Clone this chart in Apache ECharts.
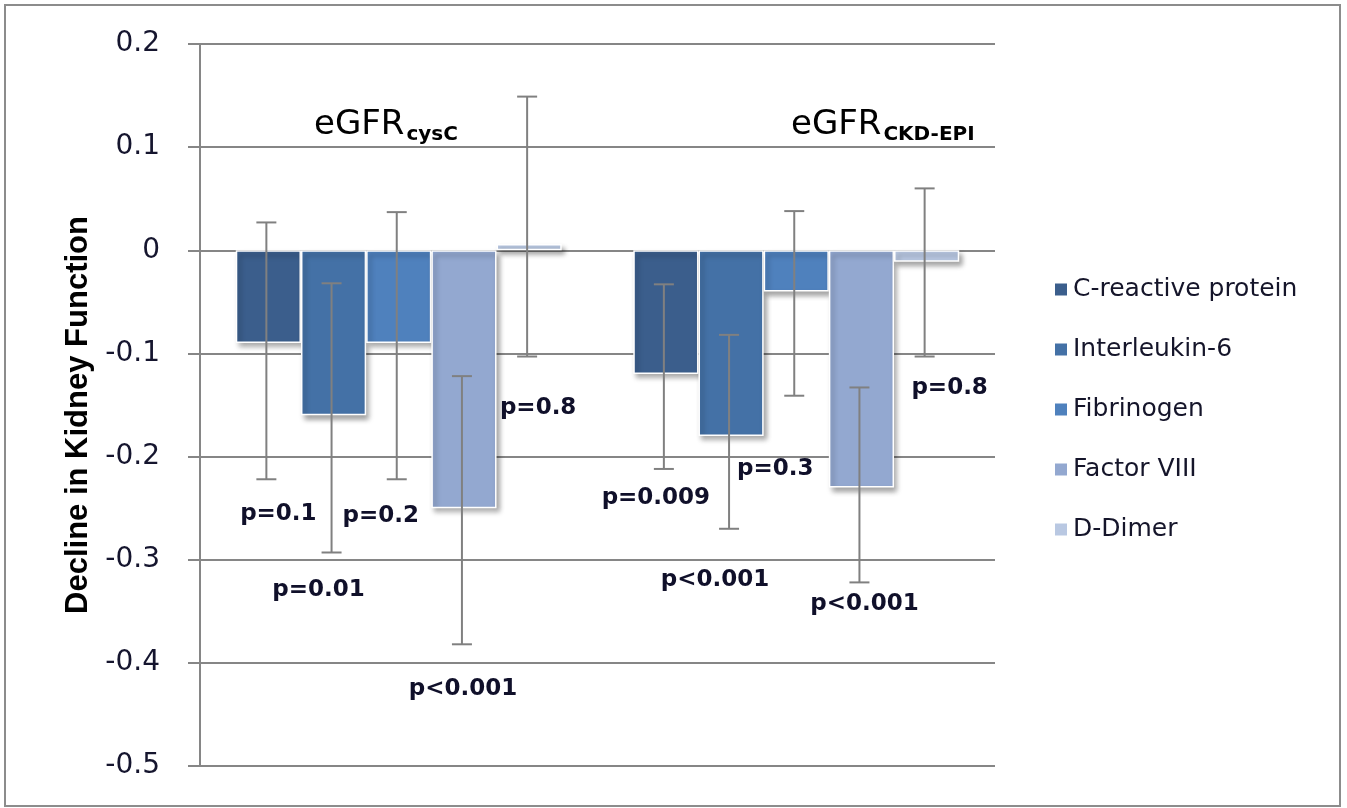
<!DOCTYPE html>
<html>
<head>
<meta charset="utf-8">
<script src="https://cdn.jsdelivr.net/npm/echarts@6/dist/echarts.min.js"></script>
<style>
html,body{margin:0;padding:0;background:#fff;}
#chart{width:1347px;height:808px;}
</style>
</head>
<body>
<div id="chart"></div>
<script>
// ---- data ----
var categories = ['eGFR_cysC', 'eGFR_CKD-EPI'];
var seriesNames = ['C-reactive protein', 'Interleukin-6', 'Fibrinogen', 'Factor VIII', 'D-Dimer'];
var crp   = [-0.09, -0.12];
var il6   = [-0.16, -0.18];
var fib   = [-0.09, -0.04];
var f8    = [-0.25, -0.23];
var ddim  = [0.006, -0.011];
var crpLow  = [-0.222, -0.212], crpHigh  = [0.027, -0.033];
var il6Low  = [-0.293, -0.27],  il6High  = [-0.032, -0.082];
var fibLow  = [-0.222, -0.141], fibHigh  = [0.037, 0.038];
var f8Low   = [-0.382, -0.322], f8High   = [-0.122, -0.133];
var ddLow   = [-0.103, -0.103], ddHigh   = [0.149, 0.06];
var pCysC = ['p=0.1', 'p=0.01', 'p=0.2', 'p<0.001', 'p=0.8'];
var pCkd  = ['p=0.009', 'p<0.001', 'p=0.3', 'p<0.001', 'p=0.8'];
var yTicks = [-0.5, -0.4, -0.3, -0.2, -0.1, 0, 0.1, 0.2];

// ---- build ----
var values = [crp, il6, fib, f8, ddim];
var lows = [crpLow, il6Low, fibLow, f8Low, ddLow];
var highs = [crpHigh, il6High, fibHigh, f8High, ddHigh];
var pLabels = [pCysC, pCkd];
var colors = ['#3B5E8C', '#4471A6', '#4F81BD', '#93A8D0', '#B9C8E2'];
// label pixel nudges relative to lower cap [dx, dy]
var nudge = [
  [[12,35],[-13,38],[-16,37],[1,45],[11,52]],
  [[-8,29],[-14,51],[-19,73],[5,22],[25,32]]
];
var catGap = 0.18;

var errData = [];
for (var c = 0; c < categories.length; c++) {
  for (var s = 0; s < seriesNames.length; s++) {
    errData.push([c, s, lows[s][c], highs[s][c]]);
  }
}

var barSeries = seriesNames.map(function (n, i) {
  return {
    name: n, type: 'bar', data: values[i], barGap: 0, barCategoryGap: (catGap*100)+'%',
    itemStyle: {color: colors[i], borderColor: '#fff', borderWidth: 1.5,
      shadowBlur: 5, shadowColor: 'rgba(0,0,0,0.35)', shadowOffsetX: 3, shadowOffsetY: 4},
    z: 2
  };
});

var errSeries = {
  type: 'custom', z: 5, silent: true,
  data: errData,
  renderItem: function (params, api) {
    var c = api.value(0), s = api.value(1);
    var catW = api.size([1, 0])[0];
    var bw = catW * (1 - catGap) / seriesNames.length;
    var x = api.coord([c, 0])[0] + (s - (seriesNames.length - 1) / 2) * bw - 2;
    var yl = api.coord([c, api.value(2)])[1];
    var yh = api.coord([c, api.value(3)])[1];
    var cap = 10;
    var st = {stroke: '#808080', lineWidth: 2};
    var nd = nudge[c][s];
    return {type: 'group', children: [
      {type: 'line', shape: {x1: x, y1: yl, x2: x, y2: yh}, style: st},
      {type: 'line', shape: {x1: x - cap, y1: yl, x2: x + cap, y2: yl}, style: st},
      {type: 'line', shape: {x1: x - cap, y1: yh, x2: x + cap, y2: yh}, style: st},
      {type: 'text', style: {x: x + nd[0], y: yl + nd[1], text: pLabels[c][s],
        align: 'center', verticalAlign: 'middle', fill: '#10102a',
        font: 'bold 23px "DejaVu Sans"'}}
    ]};
  }
};

var richTitle = {
  a: {fontFamily: 'DejaVu Sans', fontSize: 34, color: '#000', verticalAlign: 'top'},
  b: {fontFamily: 'DejaVu Sans', fontSize: 20, fontWeight: 'bold', color: '#0a0a20',
      verticalAlign: 'top', padding: [17, 0, 0, 2]}
};

var chart = echarts.init(document.getElementById('chart'));
chart.setOption({
  animation: false,
  backgroundColor: '#fff',
  grid: {left: 200, right: 352, top: 44, bottom: 42},
  legend: {
    orient: 'vertical', left: 1048, top: 272, itemGap: 35,
    icon: 'rect', itemWidth: 14, itemHeight: 14,
    textStyle: {fontFamily: 'DejaVu Sans', fontSize: 25, color: '#15152a'},
    data: seriesNames
  },
  xAxis: {
    type: 'category', data: categories,
    axisLine: {show: false}, axisTick: {show: false}, axisLabel: {show: false}
  },
  yAxis: {
    type: 'value', min: yTicks[0], max: yTicks[yTicks.length - 1], interval: 0.1,
    name: 'Decline in Kidney Function', nameLocation: 'middle', nameGap: 106,
    nameTextStyle: {fontFamily: 'Liberation Sans', fontWeight: 'bold', fontSize: 31, color: '#000',
      padding: [0, 20, 0, 0]},
    axisLine: {show: true, lineStyle: {color: '#868686', width: 2}},
    axisTick: {show: true, length: 12, lineStyle: {color: '#868686', width: 2}},
    axisLabel: {fontFamily: 'DejaVu Sans', fontSize: 28, color: '#15152e', margin: 40,
      formatter: function (v) { return String(Math.round(v * 10) / 10); }},
    splitLine: {lineStyle: {color: '#868686', width: 2}}
  },
  graphic: [
    {type: 'rect', shape: {x: 5, y: 5, width: 1335, height: 801},
      style: {fill: 'none', stroke: '#8c8c8c', lineWidth: 2}, z: 0},
    {type: 'text', left: 314, top: 108, z: 10, style: {text: '{a|eGFR}{b|cysC}', rich: richTitle}},
    {type: 'text', left: 791, top: 108, z: 10, style: {text: '{a|eGFR}{b|CKD-EPI}', rich: richTitle}}
  ],
  series: barSeries.concat([errSeries])
});
</script>
</body>
</html>
